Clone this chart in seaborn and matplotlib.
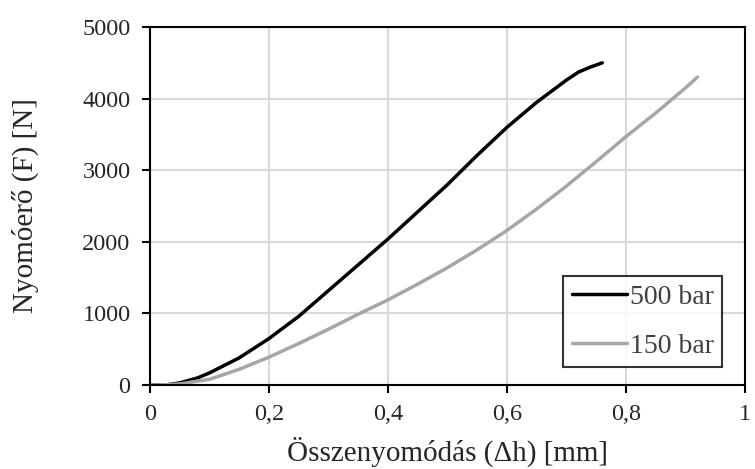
import matplotlib
matplotlib.use("Agg")
import matplotlib.pyplot as plt
import seaborn as sns
import pandas as pd
from matplotlib.ticker import FuncFormatter

# 500 bar gorbe
x_500 = [0, 0.03, 0.05, 0.08, 0.1, 0.15, 0.2, 0.25, 0.3, 0.35, 0.4, 0.45, 0.5,
         0.55, 0.6, 0.65, 0.7, 0.72, 0.74, 0.76]
y_500 = [0, 5, 30, 100, 170, 380, 650, 960, 1320, 1680, 2040, 2420, 2800,
         3210, 3600, 3950, 4260, 4370, 4440, 4500]

# 150 bar gorbe
x_150 = [0, 0.03, 0.05, 0.1, 0.15, 0.2, 0.25, 0.3, 0.35, 0.4, 0.45, 0.5, 0.55,
         0.6, 0.65, 0.7, 0.75, 0.8, 0.85, 0.9, 0.92]
y_150 = [0, 5, 15, 80, 220, 390, 580, 780, 990, 1190, 1410, 1640, 1890,
         2160, 2460, 2780, 3120, 3470, 3800, 4150, 4300]

labels = ["500 bar", "150 bar"]
colors = {"500 bar": "#000000", "150 bar": "#a6a6a6"}

df = pd.concat([
    pd.DataFrame({"dh": x_500, "F": y_500, "sorozat": labels[0]}),
    pd.DataFrame({"dh": x_150, "F": y_150, "sorozat": labels[1]}),
])

sns.set_style("white")
plt.rcParams["font.family"] = ["Liberation Serif", "DejaVu Serif"]

fig = plt.figure(figsize=(7.55, 4.69), dpi=100)
ax = fig.add_axes([0.1987, 0.179, 0.7881, 0.7634])

sns.lineplot(data=df, x="dh", y="F", hue="sorozat", palette=colors,
             hue_order=labels, linewidth=2.5, ax=ax, sort=False)

ax.set_xlim(0, 1)
ax.set_ylim(0, 5000)
ax.set_xticks([0, 0.2, 0.4, 0.6, 0.8, 1])
ax.set_yticks([0, 1000, 2000, 3000, 4000, 5000])
ax.xaxis.set_major_formatter(FuncFormatter(lambda v, p: f"{v:g}".replace(".", ",")))

ax.grid(True, color="#d9d9d9", linewidth=1.5)
ax.set_axisbelow(True)
for s in ax.spines.values():
    s.set_color("black")
    s.set_linewidth(1.5)

ax.tick_params(direction="out", length=6, width=1.5, colors="black",
               labelsize=17.5, pad=8)
ax.tick_params(axis="y", left=True)
ax.tick_params(axis="x", bottom=True)
for t in ax.get_xticklabels() + ax.get_yticklabels():
    t.set_color("#262626")

ax.set_xlabel("Összenyomódás (Δh) [mm]", fontsize=21, labelpad=8, color="#262626")
ax.set_ylabel("Nyomóerő (F) [N]", fontsize=21, labelpad=31, color="#262626")

leg = ax.legend(loc="lower right", bbox_to_anchor=(0.962, 0.05),
                fontsize=20, frameon=True, fancybox=False,
                handlelength=2.0, handletextpad=0.1, labelspacing=0.85,
                borderpad=0.3, borderaxespad=0)
leg.get_frame().set_edgecolor("black")
leg.get_frame().set_linewidth(1.5)
for t in leg.get_texts():
    t.set_color("#404040")

fig.savefig("out.png", dpi=100)
